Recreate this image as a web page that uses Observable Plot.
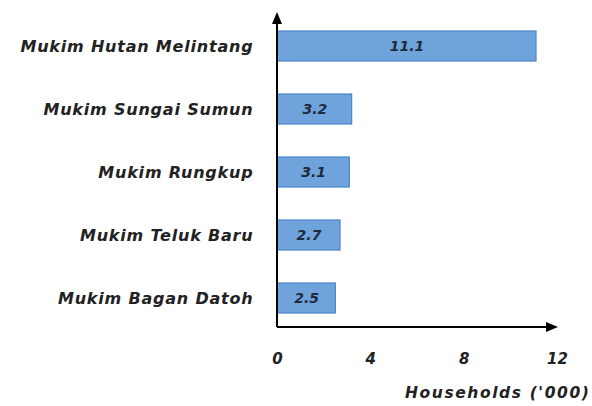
<!DOCTYPE html>
<html><head><meta charset="utf-8">
<script src="https://cdn.jsdelivr.net/npm/d3@7"></script>
<script src="https://cdn.jsdelivr.net/npm/@observablehq/plot@0.6"></script>
<style>
body{margin:0;background:#fff;}
#chart{position:relative;width:592px;height:406px;}
g[aria-label="y-axis tick label"] text{letter-spacing:0.8px;}
</style>
</head><body><div id="chart"></div>
<script>
const categories = ["Mukim Hutan Melintang","Mukim Sungai Sumun","Mukim Rungkup","Mukim Teluk Baru","Mukim Bagan Datoh"];
const values = [11.1, 3.2, 3.1, 2.7, 2.5];
const xTicks = [0, 4, 8, 12];
const xLabel = "Households ('000)";

const data = categories.map((c,i)=>({name:c, value:values[i], label:values[i].toFixed(1)}));
const FONT = "'DejaVu Sans', sans-serif";

const plot = Plot.plot({
  width: 592, height: 406,
  marginLeft: 277, marginRight: 35, marginTop: 13, marginBottom: 76,
  style: {fontFamily: FONT, background: "#fff", color: "#222"},
  x: {domain: [0, 12], ticks: xTicks, label: null},
  y: {domain: categories, paddingInner: 0.53, paddingOuter: 0.265, label: null},
  marks: [
    Plot.barX(data, {y: "name", x: "value", fill: "#6ea3dc", stroke: "#4c84c6", strokeWidth: 1.2}),
    Plot.text(data, {y: "name", x: d => d.value/2, text: "label", fill: "#1f2a3a", fontSize: 14, fontStyle: "italic", fontWeight: "bold"}),
    Plot.axisY({tickSize: 0, tickPadding: 24, fontSize: 16, fontStyle: "italic", fontWeight: "bold", fill: "#222", label: null}),
    Plot.axisX({ticks: xTicks, tickSize: 0, tickPadding: 23, fontSize: 15, fontStyle: "italic", fontWeight: "bold", fill: "#222", label: null}),
    Plot.text([xLabel], {frameAnchor: "bottom-right", dx: 33, dy: 67, text: d => d, fontSize: 15.5, fontStyle: "italic", fontWeight: "bold", fill: "#222", textAnchor: "end"})
  ]
});
document.getElementById("chart").appendChild(plot);

const svg = d3.select(plot);
svg.selectAll("text").filter(function(){ return this.textContent === xLabel; }).style("letter-spacing", "1.6px");

// axis lines with arrowheads
const xs = plot.scale("x");
const x0 = xs.apply(0);
const yBottom = 406 - 76 - 3;
const g = svg.append("g").attr("fill", "#000").attr("stroke", "#000");
g.append("line").attr("x1", x0).attr("x2", x0).attr("y1", yBottom).attr("y2", 22).attr("stroke-width", 2);
g.append("path").attr("d", `M${x0-5},24 L${x0},12 L${x0+5},24 Z`).attr("stroke", "none");
g.append("line").attr("x1", x0).attr("x2", 548).attr("y1", yBottom).attr("y2", yBottom).attr("stroke-width", 2);
g.append("path").attr("d", `M546,${yBottom-5} L558,${yBottom} L546,${yBottom+5} Z`).attr("stroke", "none");
</script>
</body></html>
